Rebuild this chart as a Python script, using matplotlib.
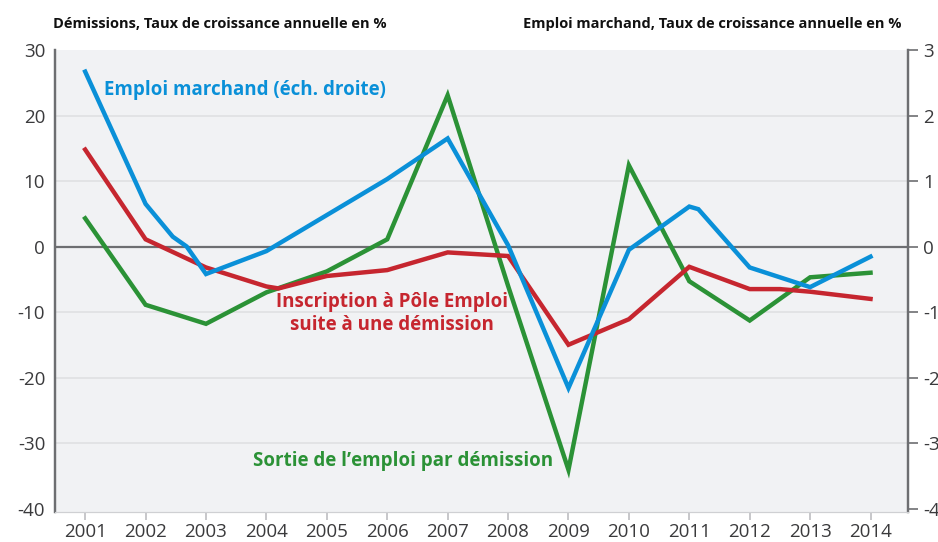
import numpy as np
import matplotlib
matplotlib.use('Agg')
import matplotlib.pyplot as plt

plt.rcParams['font.family'] = ['Open Sans', 'DejaVu Sans']
plt.rcParams['axes.unicode_minus'] = False

# Sortie de l'emploi par démission (left axis, %)
green_years = [2001, 2002, 2003, 2004, 2005, 2006, 2007, 2008, 2009, 2010, 2011, 2012, 2013, 2014]
green_vals = [4.3, -8.9, -11.8, -7.0, -3.8, 1.1, 23.1, -6.0, -34.1, 12.4, -5.3, -11.3, -4.7, -4.0]

# Inscription à Pôle Emploi suite à une démission (left axis, %)
red_years = [2001, 2002, 2003, 2004, 2004.2, 2005, 2006, 2007, 2008, 2009, 2010, 2011, 2012, 2012.5, 2013, 2014]
red_vals = [14.8, 1.1, -3.2, -6.1, -6.4, -4.5, -3.6, -0.9, -1.45, -15.0, -11.1, -3.1, -6.5, -6.5, -6.9, -8.0]

# Emploi marchand (right axis, %)
blue_years = [2001, 2002, 2002.45, 2002.68, 2003, 2004, 2006, 2007, 2008, 2009, 2010, 2011, 2011.15, 2012, 2013, 2014]
blue_vals = [2.67, 0.65, 0.15, 0.0, -0.42, -0.07, 1.03, 1.65, 0.02, -2.16, -0.05, 0.61, 0.57, -0.32, -0.62, -0.155]

year_ticks = list(range(2001, 2015))
left_ticks = [30, 20, 10, 0, -10, -20, -30, -40]
right_ticks = [3, 2, 1, 0, -1, -2, -3, -4]

GREEN = '#2b9236'
RED = '#c6262f'
BLUE = '#0a90d8'
BG = '#f1f2f4'
GRID = '#dfe0e3'
DARK = '#6d6e71'
TXT = '#3a3a3c'

fig = plt.figure(figsize=(9.38, 5.42), dpi=100)
ax1 = fig.add_axes([0.0586, 0.0554, 0.9094, 0.8523])
ax1.set_facecolor(BG)
ax2 = ax1.twinx()

ax1.set_xlim(2000.5, 2014.62)
ax1.set_ylim(-40.53, 30)
ax2.set_ylim(-4.053, 3)

for v in left_ticks:
    if v not in (0, 30, -40):
        ax1.axhline(v, color=GRID, lw=1.2, zorder=1)
ax1.axhline(0, color=DARK, lw=1.6, zorder=2)

ax1.plot(green_years, green_vals, color=GREEN, lw=3.2, zorder=3, solid_joinstyle='miter')
ax1.plot(red_years, red_vals, color=RED, lw=3.2, zorder=4, solid_joinstyle='miter')
ax2.plot(blue_years, blue_vals, color=BLUE, lw=3.2, zorder=3, solid_joinstyle='miter')

ax1.set_xticks(year_ticks)
ax1.set_xticklabels([str(y) for y in year_ticks])
ax1.set_yticks(left_ticks)
ax1.set_yticklabels([str(v) for v in left_ticks])
ax2.set_yticks(right_ticks)
ax2.set_yticklabels([str(v) for v in right_ticks])

for ax in (ax1, ax2):
    ax.spines['top'].set_visible(False)
    ax.spines['bottom'].set_color('#cfd0d3')
    ax.spines['left'].set_color(DARK)
    ax.spines['right'].set_color(DARK)
    ax.spines['left'].set_linewidth(1.6)
    ax.spines['right'].set_linewidth(1.6)

ax1.tick_params(axis='x', colors='#bdbec1', length=6, width=1.2, labelcolor=TXT, labelsize=13.5, pad=2)
ax1.tick_params(axis='y', length=0, labelcolor=TXT, labelsize=13.5, pad=7)
ax2.tick_params(axis='y', colors=DARK, length=7, width=1.2, labelcolor=TXT, labelsize=13.5, pad=4)

fig.text(0.056, 0.955, 'Démissions, Taux de croissance annuelle en %', fontsize=10.5,
         fontweight='bold', color='#111111', ha='left', va='center')
fig.text(0.961, 0.955, 'Emploi marchand, Taux de croissance annuelle en %', fontsize=10.5,
         fontweight='bold', color='#111111', ha='right', va='center')

ax1.text(2001.31, 23.9, 'Emploi marchand (éch. droite)', color=BLUE, fontsize=13.5,
         fontweight='bold', ha='left', va='center', zorder=6)
ax1.text(2006.08, -10.3, 'Inscription à Pôle Emploi\nsuite à une démission', color=RED,
         fontsize=13.5, fontweight='bold', ha='center', va='center', linespacing=1.2, zorder=6)
ax1.text(2006.27, -32.7, 'Sortie de l\u2019emploi par démission', color=GREEN, fontsize=13.5,
         fontweight='bold', ha='center', va='center', zorder=6)

fig.savefig('out.png', dpi=100)
